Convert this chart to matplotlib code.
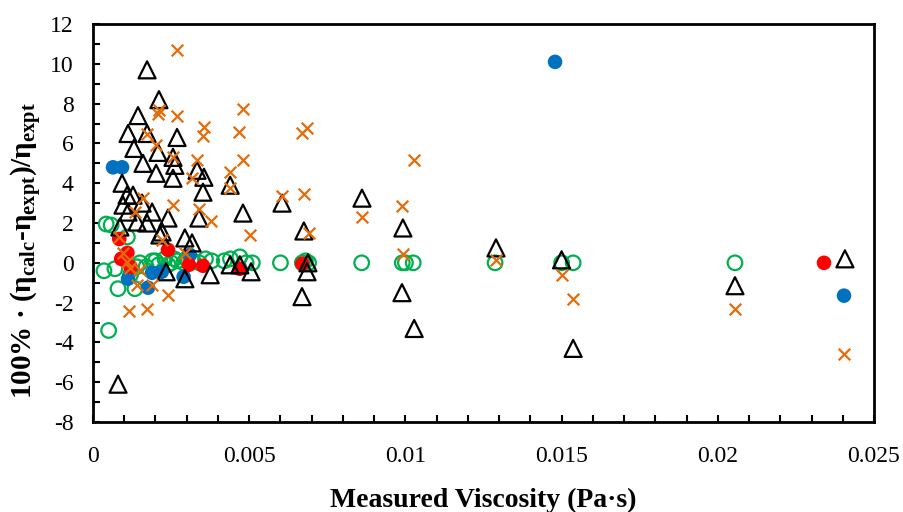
import numpy as np
import matplotlib
matplotlib.use('Agg')
import matplotlib.pyplot as plt
from matplotlib.ticker import MultipleLocator, FuncFormatter

# black open triangles
tri_x = [0.00173, 0.00211, 0.00144, 0.00112, 0.00173, 0.00269, 0.00131, 0.00208, 0.00256, 0.00160,
         0.00262, 0.00333, 0.00202, 0.00355, 0.00256, 0.00093, 0.00439, 0.00352, 0.00109, 0.00128,
         0.00157, 0.00096, 0.00605, 0.00861, 0.00112, 0.00189, 0.00480, 0.00240, 0.00339, 0.00141,
         0.00173, 0.00086, 0.00992, 0.00221, 0.00675, 0.00214, 0.00294, 0.00317, 0.01290, 0.02407,
         0.01500, 0.00439, 0.00470, 0.00688, 0.00234, 0.00375, 0.00506, 0.00685, 0.00294, 0.02055,
         0.00989, 0.00669, 0.01028, 0.01537, 0.00080]
tri_y = [9.7, 8.2, 7.4, 6.5, 6.5, 6.3, 5.75, 5.55, 5.3, 5.0,
         4.9, 4.65, 4.5, 4.3, 4.25, 4.0, 3.9, 3.55, 3.4, 3.4,
         3.0, 2.9, 3.0, 3.25, 2.55, 2.55, 2.5, 2.25, 2.25, 2.05,
         2.0, 1.8, 1.75, 1.55, 1.6, 1.4, 1.25, 1.0, 0.75, 0.2,
         0.15, -0.1, -0.1, 0.0, -0.45, -0.6, -0.45, -0.45, -0.8, -1.15,
         -1.5, -1.7, -3.3, -4.3, -6.1]

# orange crosses
crs_x = [0.00269, 0.00211, 0.00208, 0.00269, 0.00355, 0.00352, 0.00467, 0.00480, 0.00173, 0.00202,
         0.00256, 0.00333, 0.00480, 0.00439, 0.00317, 0.00439, 0.00160, 0.00134, 0.00256, 0.00339,
         0.00378, 0.00503, 0.00083, 0.00221, 0.00096, 0.00294, 0.00109, 0.00118, 0.00150, 0.00141,
         0.00189, 0.00240, 0.00115, 0.00173, 0.00669, 0.00685, 0.00605, 0.00675, 0.00692, 0.00861,
         0.01028, 0.00989, 0.00992, 0.01290, 0.01500, 0.01537, 0.02055, 0.02404]
crs_y = [10.7, 7.67, 7.5, 7.37, 6.82, 6.37, 6.57, 7.72, 6.45, 5.9,
         5.3, 5.15, 5.15, 4.55, 4.25, 3.75, 3.25, 2.55, 2.9, 2.7,
         2.1, 1.4, 1.3, 1.15, 0.5, 0.5, 0.05, -0.25, -0.35, -1.1,
         -1.1, -1.6, -2.4, -2.3, 6.5, 6.8, 3.35, 3.45, 1.5, 2.3,
         5.15, 2.85, 0.45, 0.15, -0.6, -1.8, -2.3, -4.6]

# green open circles
grn_x = [0.00035, 0.00042, 0.00058, 0.00050, 0.00080, 0.00070, 0.00110, 0.00120, 0.00134, 0.00140,
         0.00150, 0.00170, 0.00190, 0.00200, 0.00210, 0.00230, 0.00240, 0.00250, 0.00260, 0.00270,
         0.00290, 0.00300, 0.00320, 0.00340, 0.00360, 0.00380, 0.00420, 0.00440, 0.00470, 0.00490,
         0.00510, 0.00600, 0.00670, 0.00680, 0.00690, 0.00860, 0.00990, 0.01000, 0.01025, 0.01287,
         0.01500, 0.01537, 0.02055]
grn_y = [-0.4, 1.95, 1.9, -3.4, -1.3, -0.3, 1.3, -0.6, -1.3, -0.2,
         0.0, -0.2, 0.1, 0.1, -0.1, 0.2, -0.1, 0.0, 0.2, 0.1,
         0.0, 0.2, 0.1, 0.0, 0.2, 0.1, 0.1, 0.2, 0.3, 0.0,
         0.0, 0.0, 0.0, 0.1, 0.0, 0.0, 0.0, 0.0, 0.0, 0.0,
         0.0, 0.0, 0.0]

# red filled circles
red_x = [0.00084, 0.00090, 0.00110, 0.00120, 0.00240, 0.00307, 0.00352, 0.00470, 0.00670, 0.02340]
red_y = [1.2, 0.2, 0.5, -0.2, 0.65, -0.1, -0.15, -0.3, -0.05, 0.0]

# blue filled circles
blu_x = [0.00064, 0.00093, 0.00112, 0.00176, 0.00189, 0.00220, 0.00290, 0.00310, 0.01479, 0.02404]
blu_y = [4.8, 4.8, -0.8, -1.25, -0.5, -0.45, -0.7, 0.4, 10.1, -1.65]

plt.rcParams['font.family'] = ['Liberation Serif', 'DejaVu Serif']
plt.rcParams['mathtext.fontset'] = 'custom'
plt.rcParams['mathtext.bf'] = 'Liberation Serif:bold'
plt.rcParams['mathtext.rm'] = 'Liberation Serif:bold'
plt.rcParams['axes.unicode_minus'] = False

fig = plt.figure(figsize=(9.04, 5.12), dpi=100)
ax = fig.add_subplot(111)
fig.subplots_adjust(left=0.1029, right=0.9668, top=0.953, bottom=0.1758)

ax.scatter(grn_x, grn_y, s=110, facecolors='none', edgecolors='#00B050', linewidths=1.6, zorder=2)
ax.scatter(blu_x, blu_y, s=110, color='#0070C0', edgecolors='none', zorder=3)
ax.scatter(red_x, red_y, s=110, color='#FF0000', edgecolors='none', zorder=4)
ax.scatter(tri_x, tri_y, s=150, marker='^', facecolors='none', edgecolors='black', linewidths=1.6, zorder=5)
ax.scatter(crs_x, crs_y, s=70, marker='x', color='#E46C0A', linewidths=1.6, zorder=6)

ax.set_xlim(0, 0.025)
ax.set_ylim(-8, 12)
ax.xaxis.set_major_locator(MultipleLocator(0.005))
ax.xaxis.set_minor_locator(MultipleLocator(0.001))
ax.yaxis.set_major_locator(MultipleLocator(2))
ax.yaxis.set_minor_locator(MultipleLocator(1))
ax.xaxis.set_major_formatter(FuncFormatter(lambda v, p: '%g' % round(v, 4)))

ax.tick_params(which='both', direction='in', length=5, width=1.5)
ax.tick_params(axis='x', which='major', pad=17, labelsize=17)
ax.tick_params(axis='y', which='major', pad=14, labelsize=17)
for sp in ax.spines.values():
    sp.set_linewidth(2)

ax.set_xlabel('Measured Viscosity (Pa·s)', fontsize=20, fontweight='bold', labelpad=15)
ax.set_ylabel(r'100% · (η$_\mathbf{calc}$-η$_\mathbf{expt}$)/η$_\mathbf{expt}$',
              fontsize=21, fontweight='bold', labelpad=4)
ax.yaxis.label.set_y(0.432)

plt.savefig('out.png', dpi=100)
